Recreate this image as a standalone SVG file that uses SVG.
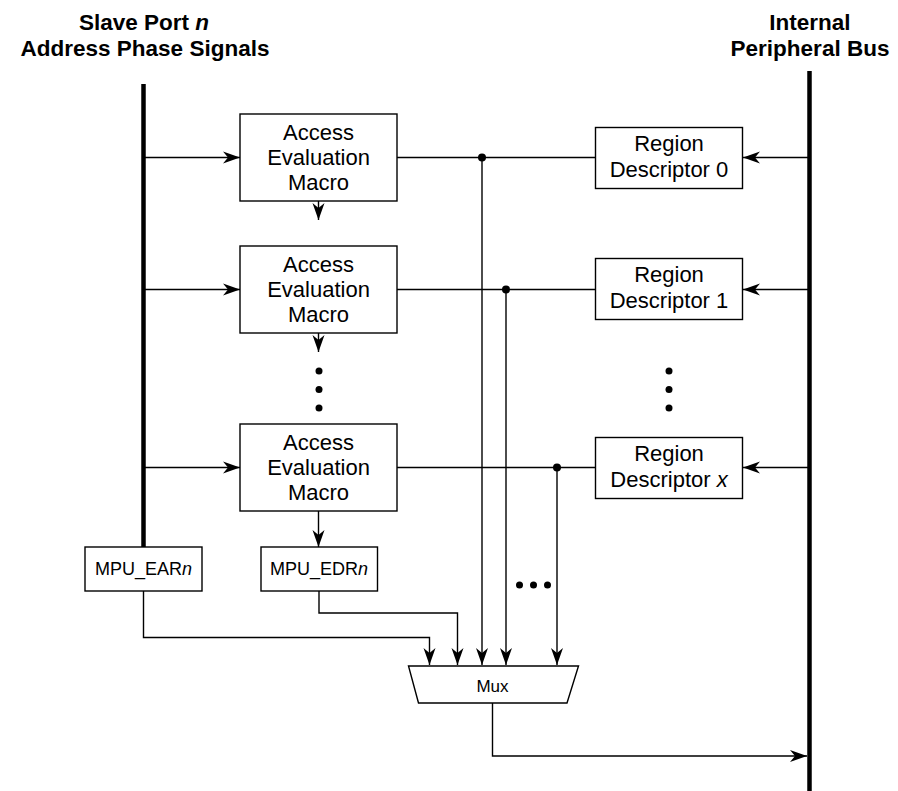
<svg xmlns="http://www.w3.org/2000/svg" width="898" height="791" viewBox="0 0 898 791">
<style>
.t{font-family:"Liberation Sans",Arial,sans-serif;fill:#000;text-anchor:middle}
.title{font-size:22.5px;font-weight:bold}
.b{font-size:22px}
.s{font-size:18px}
.m{font-size:17px}
.box{fill:#fff;stroke:#000;stroke-width:1.4}
.ln{fill:none;stroke:#000;stroke-width:1.4}
.bus{fill:none;stroke:#000;stroke-width:4.5}
.arr{marker-end:url(#ah)}
</style>
<defs>
<marker id="ah" viewBox="-20 -10 20 20" refX="0" refY="0" markerWidth="20" markerHeight="20" markerUnits="userSpaceOnUse" orient="auto">
<path d="M0,0 L-17,-6 L-12,0 L-17,6 Z" fill="#000"/>
</marker>
</defs>

<g id="titles">
<text class="t title" x="144" y="30">Slave Port <tspan font-style="italic">n</tspan></text>
<text class="t title" x="145" y="56">Address Phase Signals</text>
<text class="t title" x="810" y="30">Internal</text>
<text class="t title" x="810" y="56">Peripheral Bus</text>
</g>

<g id="buses">
<line class="bus" x1="143.5" y1="84" x2="143.5" y2="548"/>
<line class="bus" x1="809.5" y1="71" x2="809.5" y2="791"/>
</g>

<g id="connectors">
<line class="ln arr" x1="145" y1="157.5" x2="240" y2="157.5"/>
<line class="ln arr" x1="145" y1="289.5" x2="240" y2="289.5"/>
<line class="ln arr" x1="145" y1="467.5" x2="240" y2="467.5"/>
<line class="ln arr" x1="808" y1="157.5" x2="743" y2="157.5"/>
<line class="ln arr" x1="808" y1="289.5" x2="743" y2="289.5"/>
<line class="ln arr" x1="808" y1="467.5" x2="743" y2="467.5"/>
<line class="ln" x1="397" y1="157.5" x2="595" y2="157.5"/>
<line class="ln" x1="397" y1="289.5" x2="595" y2="289.5"/>
<line class="ln" x1="397" y1="467.5" x2="595" y2="467.5"/>
<line class="ln arr" x1="318.5" y1="201" x2="318.5" y2="220"/>
<line class="ln arr" x1="318.5" y1="333" x2="318.5" y2="352"/>
<line class="ln arr" x1="318.5" y1="511" x2="318.5" y2="547"/>
<line class="ln arr" x1="482" y1="157.5" x2="482" y2="665"/>
<line class="ln arr" x1="506" y1="289.5" x2="506" y2="665"/>
<line class="ln arr" x1="557" y1="467.5" x2="557" y2="665"/>
<path class="ln arr" d="M143.5,591 V637.5 H429.5 V665"/>
<path class="ln arr" d="M319,591 V613 H457.5 V665"/>
<path class="ln arr" d="M492.5,703 V756 H807"/>
<circle cx="482" cy="157.5" r="4"/>
<circle cx="506" cy="289.5" r="4"/>
<circle cx="557" cy="467.5" r="4"/>
</g>

<g id="dots">
<circle cx="319" cy="371" r="3.5"/>
<circle cx="319" cy="389.5" r="3.5"/>
<circle cx="319" cy="408" r="3.5"/>
<circle cx="669" cy="371" r="3.5"/>
<circle cx="669" cy="389.5" r="3.5"/>
<circle cx="669" cy="408" r="3.5"/>
<circle cx="519.5" cy="585" r="3.5"/>
<circle cx="533.5" cy="585" r="3.5"/>
<circle cx="547.5" cy="585" r="3.5"/>
</g>

<g id="macro0">
<rect class="box" x="240" y="114" width="157" height="87"/>
<text class="t b" x="318.5" y="140">Access</text>
<text class="t b" x="318.5" y="165">Evaluation</text>
<text class="t b" x="318.5" y="190">Macro</text>
</g>
<g id="macro1">
<rect class="box" x="240" y="246" width="157" height="87"/>
<text class="t b" x="318.5" y="272">Access</text>
<text class="t b" x="318.5" y="297">Evaluation</text>
<text class="t b" x="318.5" y="322">Macro</text>
</g>
<g id="macrox">
<rect class="box" x="240" y="424" width="157" height="87"/>
<text class="t b" x="318.5" y="450">Access</text>
<text class="t b" x="318.5" y="475">Evaluation</text>
<text class="t b" x="318.5" y="500">Macro</text>
</g>

<g id="region0">
<rect class="box" x="595.5" y="127.5" width="147" height="61"/>
<text class="t b" x="669" y="151">Region</text>
<text class="t b" x="669" y="177">Descriptor 0</text>
</g>
<g id="region1">
<rect class="box" x="595.5" y="258.5" width="147" height="61"/>
<text class="t b" x="669" y="282">Region</text>
<text class="t b" x="669" y="308">Descriptor 1</text>
</g>
<g id="regionx">
<rect class="box" x="595.5" y="437.5" width="147" height="61"/>
<text class="t b" x="669" y="461">Region</text>
<text class="t b" x="669" y="487">Descriptor <tspan font-style="italic">x</tspan></text>
</g>

<g id="mpu_ear">
<rect class="box" x="85" y="547" width="117" height="44"/>
<text class="t s" x="143.5" y="575">MPU_EAR<tspan font-style="italic">n</tspan></text>
</g>
<g id="mpu_edr">
<rect class="box" x="261" y="547" width="116.5" height="44"/>
<text class="t s" x="319" y="575">MPU_EDR<tspan font-style="italic">n</tspan></text>
</g>

<g id="mux">
<polygon class="box" points="408.5,666 578.5,666 567,703 418.5,703"/>
<text class="t m" x="492.5" y="692">Mux</text>
</g>
</svg>
